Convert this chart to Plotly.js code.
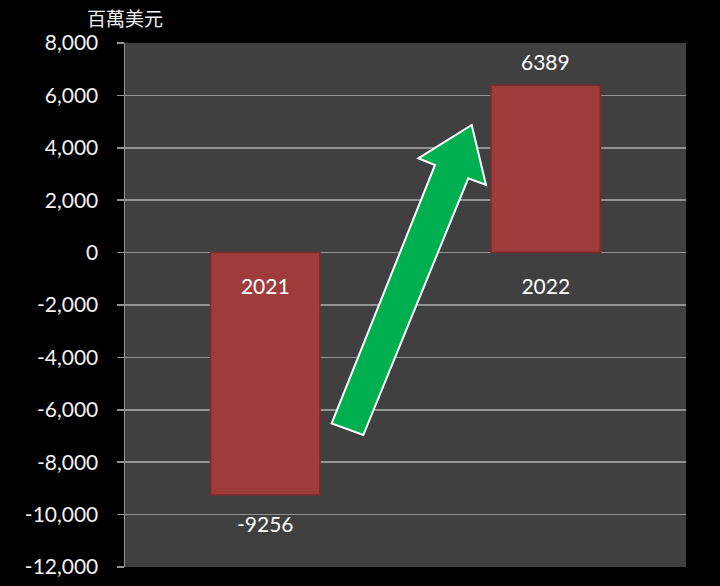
<!DOCTYPE html>
<html>
<head>
<meta charset="utf-8">
<script src="https://cdn.plot.ly/plotly-3.0.1.min.js"></script>
<style>html,body{margin:0;padding:0;background:#000;}#chart{width:720px;height:586px;}</style>
</head>
<body>
<div id="chart"></div>
<script>
const categories = ['2021', '2022'];
const values = [-9256, 6389];
const unitLabel = '百萬美元';
const tickValues = [-12000, -10000, -8000, -6000, -4000, -2000, 0, 2000, 4000, 6000, 8000];
const tickLabels = ['-12,000', '-10,000', '-8,000', '-6,000', '-4,000', '-2,000', '0', '2,000', '4,000', '6,000', '8,000'];

const font = 'Lato, "Open Sans", sans-serif';

const trace = {
  type: 'bar',
  x: categories,
  y: values,
  width: 0.39,
  marker: { color: '#9E3C3C', line: { color: '#7A2A2A', width: 1.5 } },
  hoverinfo: 'skip'
};

const valueAnnotations = categories.map((c, i) => ({
  x: i, y: values[i], xref: 'x', yref: 'y',
  text: String(values[i]), showarrow: false,
  yshift: values[i] >= 0 ? 24 : -28,
  font: { family: font, size: 21, color: '#ffffff' }
}));

const layout = {
  width: 720, height: 586,
  margin: { l: 125, r: 34, t: 43, b: 19 },
  paper_bgcolor: '#000000',
  plot_bgcolor: '#404040',
  showlegend: false,
  xaxis: {
    type: 'category',
    range: [-0.5, 1.5],
    anchor: 'free',
    position: 0.6,
    showgrid: false,
    zeroline: false,
    showline: false,
    ticks: '',
    ticklabelstandoff: 19,
    tickfont: { family: font, size: 21, color: '#ffffff' },
    fixedrange: true
  },
  yaxis: {
    range: [-12000, 8000],
    tickvals: tickValues,
    ticktext: tickLabels,
    showgrid: true,
    gridcolor: '#939393',
    gridwidth: 1.5,
    zeroline: false,
    showline: true,
    linecolor: '#939393',
    linewidth: 1.5,
    ticks: 'outside',
    ticklen: 7,
    tickcolor: '#939393',
    tickwidth: 1.5,
    ticklabelstandoff: 14,
    tickfont: { family: font, size: 21, color: '#f2f2f2' },
    fixedrange: true
  },
  annotations: valueAnnotations.concat([{
    xref: 'paper', yref: 'paper', x: 0.0, y: 1.0,
    xanchor: 'center', yanchor: 'bottom', yshift: 10,
    text: unitLabel, showarrow: false,
    font: { family: '"Noto Sans CJK TC", sans-serif', size: 19, color: '#f2f2f2' }
  }]),
  shapes: [{
    type: 'path', xref: 'paper', yref: 'paper',
    path: 'M 0.3684 0.2742 L 0.5526 0.7672 L 0.5228 0.7800 L 0.6180 0.8435 L 0.6435 0.7290 L 0.6119 0.7418 L 0.4248 0.2519 Z',
    fillcolor: '#00B050',
    line: { color: '#ffffff', width: 2 },
    layer: 'above'
  }]
};

Plotly.newPlot('chart', [trace], layout, { displayModeBar: false, staticPlot: true });
</script>
</body>
</html>
